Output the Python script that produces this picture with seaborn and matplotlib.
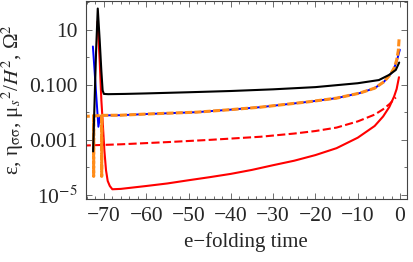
import numpy as np
import pandas as pd
import matplotlib
matplotlib.use("Agg")
import matplotlib.pyplot as plt
import seaborn as sns
from matplotlib.ticker import FixedLocator, NullFormatter

# black curve
n_black = [-72.55, -72.2, -71.85, -71.45, -71.0, -70.6, -70.3, -70.0, -69.0, -65, -60, -50, -40, -30, -20, -10, -5, -2.6, -1.0, -0.2]
v_black = [3.8e-4, 0.025, 1.6, 60, 4.4, 0.32, 0.063, 0.047, 0.046, 0.047, 0.049, 0.054, 0.060, 0.069, 0.083, 0.115, 0.15, 0.23, 0.35, 0.65]

# blue curve
n_blue = [-72.6, -71.3, -70.9, -70.5, -66, -60, -48, -40, -33, -21.4, -15, -9.6, -6, -3.8, -2.2, -1.4, -0.8, -0.4, -0.05]
v_blue = [2.5, 3.0e-3, 7.1e-3, 7.8e-3, 7.9e-3, 8.7e-3, 0.0102, 0.0126, 0.0155, 0.0245, 0.033, 0.050, 0.076, 0.13, 0.25, 0.41, 0.7, 1.2, 1.9]

# orange curve (Omega^2)
n_orange = [-75, -72.45, -72.42, -72.39, -70.55, -70.52, -70.49, -66, -60, -48, -40, -33, -21.4, -15, -9.6, -6, -3.8, -2.2, -1.4, -0.8, -0.4, -0.2]
v_orange = [7.1e-3, 7.4e-3, 4.7e-5, 7.4e-3, 7.8e-3, 4.7e-5, 7.8e-3, 7.9e-3, 8.7e-3, 0.0102, 0.0126, 0.0155, 0.0245, 0.033, 0.050, 0.076, 0.13, 0.25, 0.41, 0.79, 1.8, 5.2]

# red solid
n_red = [-71.5, -71.0, -70.6, -70.3, -69.9, -69.5, -69.1, -68.6, -68.0, -66, -60, -55, -50, -45, -40, -35, -30, -25, -20, -15, -10, -6, -4, -2.5, -1.4, -0.8, -0.25]
v_red = [20, 0.8, 0.028, 5.0e-3, 4.4e-4, 7.9e-5, 3.2e-5, 2.1e-5, 1.6e-5, 1.65e-5, 2.1e-5, 2.6e-5, 3.4e-5, 4.4e-5, 5.8e-5, 8.1e-5, 1.2e-4, 1.75e-4, 2.8e-4, 5.0e-4, 1.2e-3, 3.2e-3, 7.1e-3, 0.016, 0.038, 0.071, 0.19]

# red dashed
n_red_d = [-75, -66, -55, -45, -33, -25, -20, -15, -10, -6, -4, -2.5, -1.0]
v_red_d = [6.2e-4, 6.9e-4, 8.3e-4, 1.0e-3, 1.3e-3, 1.7e-3, 2.1e-3, 2.8e-3, 4.7e-3, 8.3e-3, 0.013, 0.020, 0.035]

xticks = [-70, -60, -50, -40, -30, -20, -10, 0]
xtick_labels = ["\u221270", "\u221260", "\u221250", "\u221240", "\u221230", "\u221220", "\u221210", "0"]
yticks = [10, 0.1, 1e-3, 1e-5]
ytick_labels = ["10", "0.100", "0.001", "10$^{-5}$"]

sns.set_theme(style="ticks")
plt.rcParams['font.family'] = ['Liberation Serif', 'DejaVu Serif']
plt.rcParams['mathtext.fontset'] = 'stix'

fig = plt.figure(figsize=(4.13, 2.62), dpi=100)
ax = fig.add_axes([0.2075, 0.2405, 0.778, 0.7555])

sns.lineplot(x=n_red_d, y=v_red_d, ax=ax, color="#ff0000", lw=1.5, estimator=None, sort=False,
             linestyle=(0, (3.9, 1.6)))
sns.lineplot(x=n_red, y=v_red, ax=ax, color="#ff0000", lw=1.5, estimator=None, sort=False)
sns.lineplot(x=n_blue, y=v_blue, ax=ax, color="#0000ff", lw=1.4, estimator=None, sort=False)
sns.lineplot(x=n_orange, y=v_orange, ax=ax, color="#ff8c1a", lw=2.2, estimator=None, sort=False,
             linestyle=(0, (2.3, 0.75)))
sns.lineplot(x=n_black, y=v_black, ax=ax, color="#000000", lw=1.5, estimator=None, sort=False)

ax.set_yscale('log')
ax.set_xlim(-74.3, 1.65)
ax.set_ylim(10**-5.15, 10**2.05)

ax.xaxis.set_major_locator(FixedLocator(xticks))
ax.set_xticklabels(xtick_labels)
ax.xaxis.set_minor_locator(FixedLocator(np.arange(-74, 2, 2)))
ax.yaxis.set_major_locator(FixedLocator(yticks))
ax.set_yticklabels(ytick_labels)
ax.yaxis.set_minor_locator(FixedLocator([100, 1, 1e-2, 1e-4]))
ax.yaxis.set_minor_formatter(NullFormatter())

ax.tick_params(which='both', direction='in', top=True, right=True, labelsize=15.5, color='#555555', width=0.6)
ax.tick_params(which='major', length=4, pad=6)
ax.tick_params(which='minor', length=2.5)
for s in ax.spines.values():
    s.set_color('#444444')
    s.set_linewidth(0.8)

ax.set_xlabel("e\u2212folding time", fontsize=15, labelpad=4)
ax.set_ylabel(r"ε, η$_{\mathrm{σσ}}$, μ$_{s}{}^{2}$/$H^{2}$, Ω$^{2}$", fontsize=15, labelpad=2)

fig.savefig("out.png", dpi=100)
